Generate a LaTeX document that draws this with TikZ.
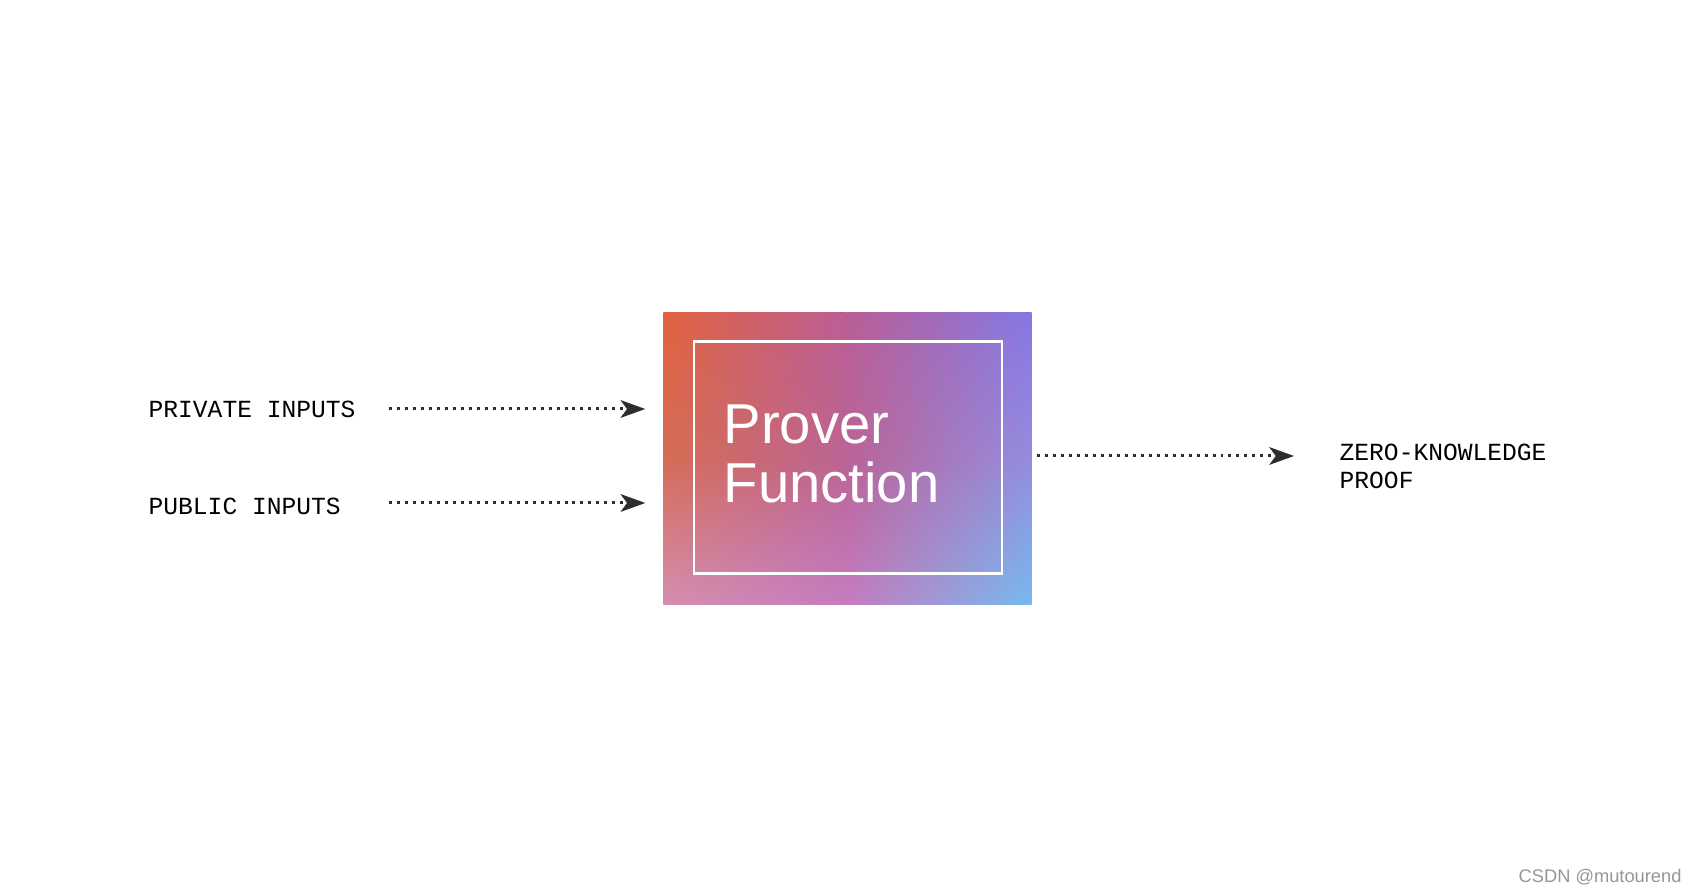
\documentclass[tikz,border=0pt]{standalone}
\usepackage{fontspec}
\usetikzlibrary{arrows.meta, positioning, shadings, backgrounds}
\newfontfamily\labelfont{Liberation Mono}
\newfontfamily\titlefont{Liberation Sans}
\definecolor{inkgray}{RGB}{45, 45, 45}
\definecolor{markgray}{RGB}{150, 150, 150}
% gradient grid of the prover box
\definecolor{gradnw}{RGB}{225, 98, 62}
\definecolor{gradn}{RGB}{186, 94, 150}
\definecolor{gradne}{RGB}{132, 120, 228}
\definecolor{gradw}{RGB}{214, 108, 84}
\definecolor{gradc}{RGB}{186, 100, 150}
\definecolor{grade}{RGB}{148, 140, 224}
\definecolor{gradsw}{RGB}{212, 142, 176}
\definecolor{grads}{RGB}{196, 124, 192}
\definecolor{gradse}{RGB}{118, 186, 238}

\begin{document}
\begin{tikzpicture}[
    txt/.style={inner sep=0pt, font=\labelfont\fontsize{7pt}{8.2pt}\selectfont, text=black},
    flow/.style={inkgray, line width=0.85pt, dash pattern=on 0.85pt off 1.42pt,
                 -{Stealth[length=7pt, width=5pt, inset=1.8pt]}}
  ]
  \useasboundingbox (0,0) rectangle (16.96,8.92);

  % prover box with gradient and inner frame
  \node[rectangle, minimum width=3.67cm, minimum height=2.91cm, inner sep=0pt] (prover) at (8.475,4.335) {};
  \begin{scope}[on background layer]
    \shade[upper left=gradnw, upper right=gradn, lower left=gradw, lower right=gradc]
      (prover.north west) rectangle (prover.center);
    \shade[upper left=gradn, upper right=gradne, lower left=gradc, lower right=grade]
      (prover.north) rectangle (prover.east);
    \shade[upper left=gradw, upper right=gradc, lower left=gradsw, lower right=grads]
      (prover.west) rectangle (prover.south);
    \shade[upper left=gradc, upper right=grade, lower left=grads, lower right=gradse]
      (prover.center) rectangle (prover.south east);
  \end{scope}
  \node[draw=white, line width=0.85pt, minimum width=3.08cm, minimum height=2.32cm,
        inner sep=0pt] (core) at (8.48,4.34) {};
  \node[anchor=base west, inner sep=0pt, text=white, align=left,
        font=\titlefont\fontsize{16pt}{17pt}\selectfont] (title) at (7.23,3.89)
        {Prover\\Function};

  % inputs
  \node[txt, anchor=base west] (priv) at (1.48,4.74) {PRIVATE INPUTS};
  \node[txt, anchor=base west] (pub) at (1.48,3.77) {PUBLIC INPUTS};
  \coordinate (privtail) at (3.89,4.83);
  \coordinate (pubtail) at (3.89,3.89);
  \draw[flow, shorten >=0.18cm] (privtail) -- (privtail -| prover.west);
  \draw[flow, shorten >=0.18cm] (pubtail) -- (pubtail -| prover.west);

  % output
  \node[txt, anchor=base west, align=left] (zk) at (13.39,4.03) {ZERO-KNOWLEDGE\\PROOF};
  \coordinate (zktail) at (10.37,4.36);
  \draw[flow, shorten >=0.45cm] (zktail) -- (zktail -| zk.west);

  \node[anchor=base west, inner sep=0pt, text=markgray,
        font=\titlefont\fontsize{5.2pt}{6pt}\selectfont] (mark) at (15.18,0.09) {CSDN @mutourend};
\end{tikzpicture}
\end{document}
